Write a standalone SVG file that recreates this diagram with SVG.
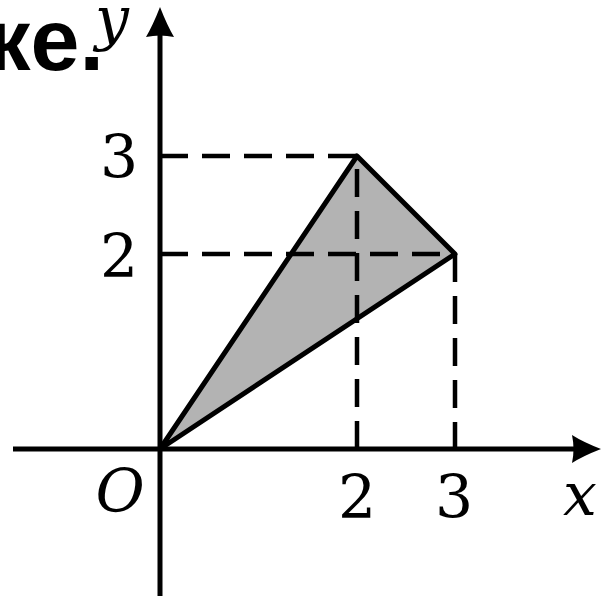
<svg xmlns="http://www.w3.org/2000/svg" width="602" height="596" viewBox="0 0 602 596">
<style>
.ax{stroke:#000;stroke-width:5;fill:none}
.dash{stroke:#000;stroke-width:4.5;fill:none;stroke-dasharray:28 14}
.lbl{font-family:'DejaVu Serif',serif;font-size:60px;fill:#000;text-anchor:middle}
.it{font-style:italic}
.head{font-family:'Liberation Sans',Roboto,sans-serif;font-weight:bold;font-size:88px;fill:#000}
</style>
<rect width="602" height="596" fill="#fff"/>
<g id="title"><text class="head" x="104" y="70" text-anchor="end">ке.</text></g>
<g id="shape">
<polygon points="160,449 357,156 455,254" fill="#b3b3b3" stroke="#000" stroke-width="5" stroke-linejoin="round"/>
</g>
<g id="connectors">
<path class="dash" d="M160,156 H357"/>
<path class="dash" d="M160,254 H455"/>
<path class="dash" d="M357,449 V156"/>
<path class="dash" d="M455,254 V449"/>
<path class="ax" d="M13,449 H576"/>
<path class="ax" d="M160,596 V34"/>
<path d="M601,449 Q583,442 572,435 Q575,449 572,463 Q583,456 601,449 Z" fill="#000"/>
<path d="M160,7 Q153,25 146,37 Q160,34 174,37 Q167,25 160,7 Z" fill="#000"/>
</g>
<g id="labels">
<text class="lbl" x="119" y="178">3</text>
<text class="lbl" x="119" y="277">2</text>
<text class="lbl" x="357" y="518">2</text>
<text class="lbl" x="454" y="518">3</text>
<text class="lbl it" x="120" y="512">O</text>
<text class="lbl it" x="580" y="515">x</text>
<text class="lbl it" x="112" y="39" fill="#222">y</text>
</g>
</svg>
